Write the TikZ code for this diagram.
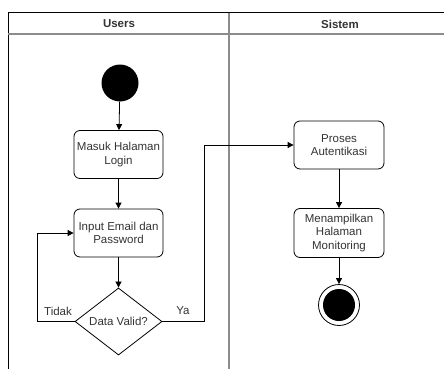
\documentclass[tikz,border=0pt]{standalone}
\usepackage{fontspec}
\setmainfont{Liberation Sans}
\usetikzlibrary{shapes.geometric,arrows.meta}
\begin{document}
\begin{tikzpicture}[x=1pt,y=-1pt,
  font=\fontsize{11.5}{13.5}\selectfont,
  action/.style={draw, rounded corners=6pt, minimum width=89pt, minimum height=48pt,
    align=center, inner sep=2pt, text=black!80, line width=0.8pt},
  decision/.style={draw, diamond, minimum width=87pt, minimum height=67pt,
    inner sep=0pt, text=black!80, line width=0.8pt},
  flow/.style={-{Triangle[length=6pt,width=6pt]}, line width=0.8pt},
  link/.style={line width=0.8pt},
  lane/.style={draw=black!45, line width=1.6pt},
  lanetitle/.style={font=\fontsize{11.5}{13.5}\selectfont\bfseries, text=black!80},
  tag/.style={text=black!80}]
\useasboundingbox (0,0) rectangle (444,369);

% swimlane frame
\draw[line width=0.9pt] (8,369) -- (8,12.7) -- (444,12.7);
\draw[lane] (8,34) -- (444,34);
\draw[lane] (229,12.7) -- (229,369);
\node[lanetitle] (usersh) at (119,24) {Users};
\node[lanetitle] (sistemh) at (340,24) {Sistem};

% users lane
\node[circle, fill=black, minimum size=37pt, inner sep=0pt] (start) at (120,83) {};
\node[action] (masuk) at (118.5,154.5) {Masuk Halaman\\Login};
\node[action] (input) at (118.5,233) {Input Email dan\\Password};
\node[decision] (valid) at (118.5,321.5) {Data Valid?};

% system lane
\node[action, minimum width=90pt] (proses) at (339,145) {Proses\\Autentikasi};
\node[action, minimum width=90pt, minimum height=49pt] (tampil) at (339,233) {Menampilkan\\Halaman\\Monitoring};
\node[circle, draw, line width=0.8pt, minimum size=41pt, inner sep=0pt] (end) at (339,305) {};
\node[circle, fill=black, minimum size=32pt, inner sep=0pt] (endfill) at (339,305) {};

% connectors
\coordinate (tidakc) at (37.5,321.5);
\coordinate (yac) at (204.5,321.5);
\draw[flow] (start) -- (masuk);
\draw[flow] (masuk) -- (input);
\draw[flow] (input) -- (valid);
\draw[flow] (valid.west) -- (tidakc) |- (input.west);
\draw[flow] (valid.east) -- (yac) |- (proses.west);
\draw[flow] (proses) -- (tampil);
\draw[flow] (tampil) -- (end);

\node[tag] (tidak) at (58,311) {Tidak};
\node[tag] (ya) at (183,311) {Ya};
\end{tikzpicture}
\end{document}
